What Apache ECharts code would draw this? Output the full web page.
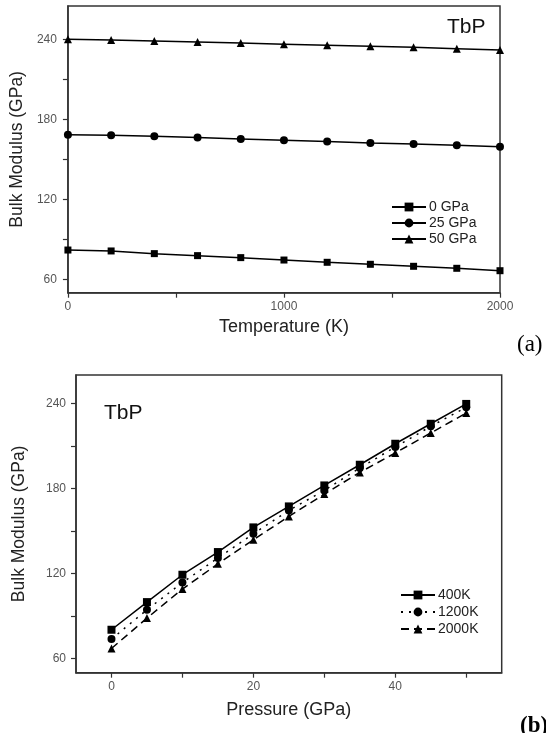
<!DOCTYPE html>
<html>
<head>
<meta charset="utf-8">
<script src="https://cdn.jsdelivr.net/npm/echarts@6/dist/echarts.min.js"></script>
<style>
html,body{margin:0;padding:0;background:#fff;}
#chart{width:546px;height:733px;}
</style>
</head>
<body>
<div id="chart"></div>
<script>
// ---- Panel (a): Bulk modulus vs temperature ----
const temperatures = [0, 200, 400, 600, 800, 1000, 1200, 1400, 1600, 1800, 2000];
const bulk0GPa  = [82, 81.3, 79.3, 77.8, 76.3, 74.5, 72.8, 71.3, 69.8, 68.3, 66.5];
const bulk25GPa = [168.5, 168, 167.3, 166.3, 165.3, 164.3, 163.3, 162.3, 161.5, 160.5, 159.5];
const bulk50GPa = [240, 239.5, 238.8, 238, 237.2, 236.4, 235.6, 234.8, 234, 233, 232];
const tempTickLabels = [0, 1000, 2000];
const tempTicks = [0, 500, 1000, 1500, 2000];

// ---- Panel (b): Bulk modulus vs pressure ----
const pressures = [0, 5, 10, 15, 20, 25, 30, 35, 40, 45, 50];
const bulk400K  = [80.3, 99.8, 119.1, 135.1, 152.5, 167.3, 182.1, 196.7, 211.5, 225.6, 239.6];
const bulk1200K = [73.7, 94.4, 113.6, 130.9, 148, 164.5, 178.6, 194.4, 209.2, 223.8, 237.2];
const bulk2000K = [67.1, 88.5, 109, 126.8, 143.8, 160.2, 176, 191.3, 205, 219.1, 233.2];
const pressTickLabels = [0, 20, 40];
const pressTicks = [0, 10, 20, 30, 40, 50];

const bulkTickLabels = [60, 120, 180, 240];
const bulkTicks = [60, 90, 120, 150, 180, 210, 240];

const FONT = 'Liberation Sans, Arial, sans-serif';
const pair = (xs, ys) => xs.map((x, i) => [x, ys[i]]);

function xAxisCfg(gridIndex, min, max, name, ticks, labels, nameGap) {
  return {
    type: 'value', gridIndex, min, max, name, nameLocation: 'middle', nameGap,
    nameTextStyle: {fontFamily: FONT, fontSize: 18, color: '#222'},
    axisLine: {show: true, onZero: false, lineStyle: {color: '#333', width: 1.5}},
    axisTick: {show: true, inside: false, length: 5, customValues: ticks, lineStyle: {color: '#333', width: 1.2}},
    axisLabel: {customValues: labels, margin: 8, fontFamily: FONT, fontSize: 12, color: '#555',
      formatter: v => String(v)},
    splitLine: {show: false}
  };
}
function yAxisCfg(gridIndex, min, max, nameGap, labelMargin) {
  return {
    type: 'value', gridIndex, min, max, name: 'Bulk Modulus (GPa)', nameLocation: 'middle', nameGap,
    nameTextStyle: {fontFamily: FONT, fontSize: 17.5, color: '#222'},
    axisLine: {show: true, onZero: false, lineStyle: {color: '#333', width: 1.5}},
    axisTick: {show: true, inside: false, length: 5, customValues: bulkTicks, lineStyle: {color: '#333', width: 1.2}},
    axisLabel: {customValues: bulkTickLabels, margin: labelMargin, fontFamily: FONT, fontSize: 12, color: '#555',
      formatter: v => String(v)},
    splitLine: {show: false}
  };
}
function lineSeries(name, xi, yi, data, symbol, size, dash) {
  return {
    type: 'line', name, xAxisIndex: xi, yAxisIndex: yi, data,
    symbol, symbolSize: size, showSymbol: true,
    itemStyle: {color: '#000'},
    lineStyle: {color: '#000', width: 1.5, type: dash},
    emphasis: {disabled: true},
    animation: false
  };
}

const chart = echarts.init(document.getElementById('chart'), null, {renderer: 'canvas'});
chart.setOption({
  animation: false,
  backgroundColor: '#fff',
  grid: [
    {left: 67.5, right: 46, top: 6, bottom: 440.3, show: true, borderColor: '#333', borderWidth: 1.5},
    {left: 76, right: 44.3, top: 375, bottom: 60.3, show: true, borderColor: '#333', borderWidth: 1.5}
  ],
  xAxis: [
    xAxisCfg(0, 0, 2000, 'Temperature (K)', tempTicks, tempTickLabels, 25),
    xAxisCfg(1, -5, 55, 'Pressure (GPa)', pressTicks, pressTickLabels, 28)
  ],
  yAxis: [
    yAxisCfg(0, 50, 265, 40, 11),
    yAxisCfg(1, 50, 260, 48, 10)
  ],
  legend: [
    {
      data: ['0 GPa', '25 GPa', '50 GPa'], orient: 'vertical', left: 386, top: 195,
      itemWidth: 34, itemHeight: 11, itemGap: 2,
      textStyle: {fontFamily: FONT, fontSize: 14, color: '#222', padding: [0, 0, 0, -2]},
      selectedMode: false
    },
    {
      data: ['400K', '1200K', '2000K'], orient: 'vertical', left: 395, top: 583,
      itemWidth: 34, itemHeight: 11, itemGap: 3,
      textStyle: {fontFamily: FONT, fontSize: 14, color: '#222', padding: [0, 0, 0, -2]},
      selectedMode: false
    }
  ],
  series: [
    lineSeries('0 GPa', 0, 0, pair(temperatures, bulk0GPa), 'rect', 7, 'solid'),
    lineSeries('25 GPa', 0, 0, pair(temperatures, bulk25GPa), 'circle', 8, 'solid'),
    lineSeries('50 GPa', 0, 0, pair(temperatures, bulk50GPa), 'triangle', 8, 'solid'),
    lineSeries('400K', 1, 1, pair(pressures, bulk400K), 'rect', 8, 'solid'),
    lineSeries('1200K', 1, 1, pair(pressures, bulk1200K), 'circle', 8, [2, 6]),
    lineSeries('2000K', 1, 1, pair(pressures, bulk2000K), 'triangle', 8, [8, 5])
  ],
  graphic: [
    {type: 'text', left: 447, top: 17, style: {text: 'TbP', fontFamily: FONT, fontSize: 21, fill: '#111'}},
    {type: 'text', left: 104, top: 403, style: {text: 'TbP', fontFamily: FONT, fontSize: 21, fill: '#111'}},
    {type: 'text', left: 517, top: 333, style: {text: '(a)', fontFamily: 'Liberation Serif, Times New Roman, serif', fontSize: 23, fill: '#000'}},
    {type: 'text', left: 520, top: 715, style: {text: '(b)', fontFamily: 'Liberation Serif, Times New Roman, serif', fontSize: 23, fontWeight: 'bold', fill: '#000'}}
  ]
});
</script>
</body>
</html>
